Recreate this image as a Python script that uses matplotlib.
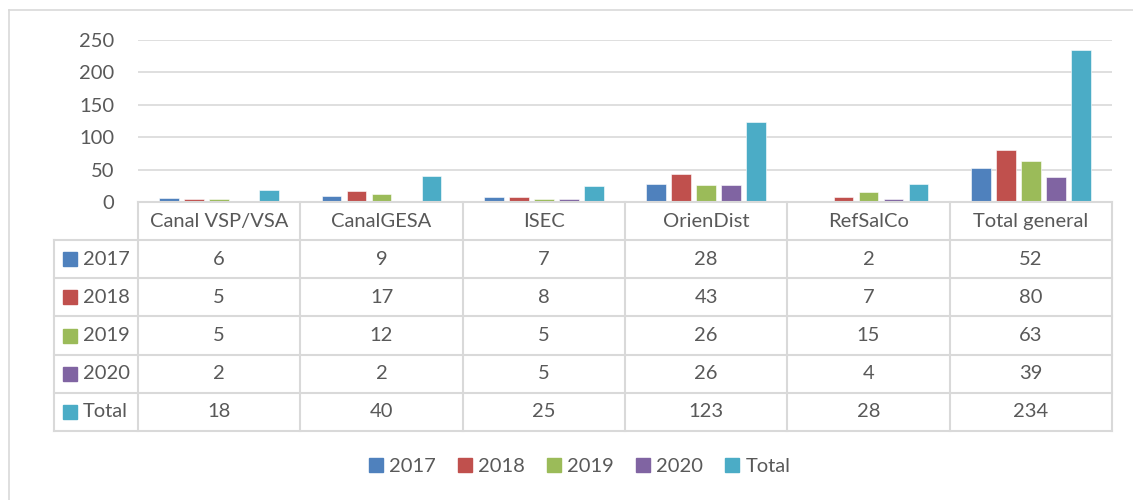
import numpy as np
import matplotlib
matplotlib.use("Agg")
from matplotlib import pyplot as plt
from matplotlib.lines import Line2D

plt.rcParams['font.family'] = ['Lato', 'DejaVu Sans']

# data
categories = ["Canal VSP/VSA", "CanalGESA", "ISEC", "OrienDist", "RefSalCo", "Total general"]
series = ["2017", "2018", "2019", "2020", "Total"]
v2017 = [6, 9, 7, 28, 2, 52]
v2018 = [5, 17, 8, 43, 7, 80]
v2019 = [5, 12, 5, 26, 15, 63]
v2020 = [2, 2, 5, 26, 4, 39]
vtotal = [18, 40, 25, 123, 28, 234]
yticks = [0, 50, 100, 150, 200, 250]

values = [v2017, v2018, v2019, v2020, vtotal]
colors = ["#4F81BD", "#C0504D", "#9BBB59", "#8064A2", "#4BACC6"]
txt = "#595959"
grid = "#d9d9d9"
fs = 14.5

W, H = 1133, 500
fig = plt.figure(figsize=(W / 100, H / 100), dpi=100)

# outer chart border (only top and left visible)
fig.add_artist(Line2D([9 / W, 9 / W], [0, 1 - 10 / H], color=grid, lw=1.2))
fig.add_artist(Line2D([9 / W, 1], [1 - 10 / H, 1 - 10 / H], color=grid, lw=1.2))

# bar area
x0, x1 = 138, 1112
ax = fig.add_axes([x0 / W, 1 - 202 / H, (x1 - x0) / W, (202 - 40) / H])
n = len(categories)
step = 0.1537
bw = 0.1205
for k, (vals, c) in enumerate(zip(values, colors)):
    xs = np.arange(n) + 0.5 + (k - 2) * step
    ax.bar(xs, vals, width=bw, color=c, edgecolor="white", linewidth=0.4, zorder=3)
ax.set_xlim(0, n)
ax.set_ylim(0, 250)
ax.set_yticks(yticks)
ax.set_yticklabels([str(t) for t in yticks], fontsize=fs, color=txt)
ax.tick_params(axis="y", length=0, pad=17)
ax.set_xticks([])
for t in yticks[1:]:
    ax.axhline(t, color=grid, lw=1.2, zorder=1)
for s in ax.spines.values():
    s.set_visible(False)

# data table below
cw = (x1 - x0) / n
tl = 54
axt = fig.add_axes([tl / W, 1 - 431 / H, (x1 - tl) / W, (431 - 202) / H])
xmin = -(x0 - tl) / cw
axt.set_xlim(xmin, n)
axt.set_ylim(6, 0)
axt.axis("off")
lc = dict(color=grid, lw=1.5, clip_on=False)
axt.plot([0, n], [0, 0], **lc)
for r in range(1, 7):
    axt.plot([xmin, n], [r, r], **lc)
for c in range(n + 1):
    axt.plot([c, c], [0, 6], **lc)
axt.plot([xmin, xmin], [1, 6], **lc)

for i, cat in enumerate(categories):
    axt.text(i + 0.5, 0.5, cat, ha="center", va="center", fontsize=fs, color=txt)
for r, (name, vals, c) in enumerate(zip(series, values, colors)):
    y = r + 1.5
    for i, v in enumerate(vals):
        axt.text(i + 0.5, y, str(v), ha="center", va="center", fontsize=fs, color=txt)
    axt.plot([xmin + 15.5 / cw], [y], marker="s", ms=10, color=c, clip_on=False)
    axt.text(xmin + 28.5 / cw, y, name, ha="left", va="center", fontsize=fs, color=txt)

# legend
handles = [Line2D([], [], ls="", marker="s", ms=10, color=c) for c in colors]
fig.legend(handles, series, loc="center", bbox_to_anchor=(0.5115, 1 - 466 / H), ncol=5,
           frameon=False, fontsize=fs, labelcolor=txt, handlelength=0.7,
           handletextpad=0.3, columnspacing=1.1)

fig.savefig("out.png", dpi=100)
